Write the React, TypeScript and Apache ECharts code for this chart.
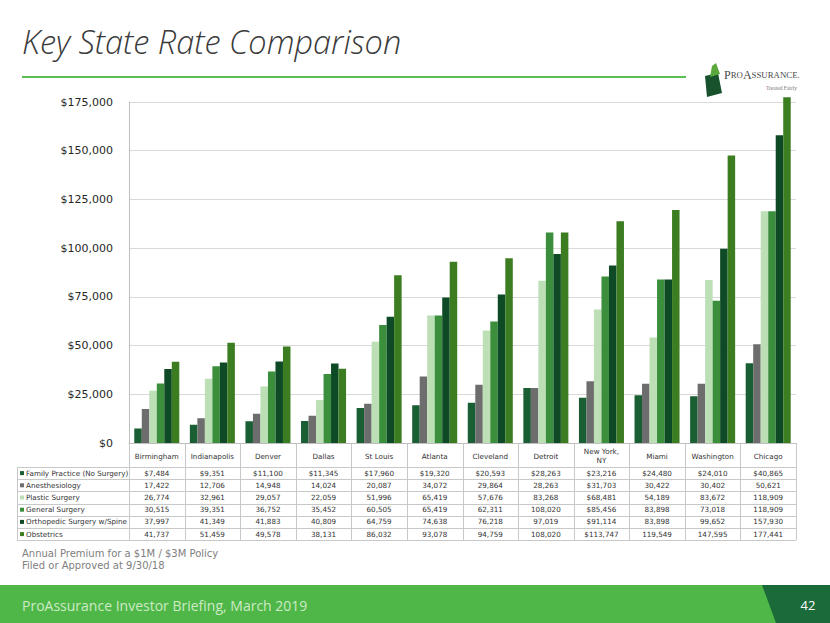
import React, { useEffect, useRef } from "react";
import * as echarts from "echarts";

const cities = ["Birmingham", "Indianapolis", "Denver", "Dallas", "St Louis", "Atlanta", "Cleveland", "Detroit", "New York,\nNY", "Miami", "Washington", "Chicago"];
const seriesNames = ["Family Practice (No Surgery)", "Anesthesiology", "Plastic Surgery", "General Surgery", "Orthopedic Surgery w/Spine", "Obstetrics"];
const familyPractice = [7484, 9351, 11100, 11345, 17960, 19320, 20593, 28263, 23216, 24480, 24010, 40865];
const anesthesiology = [17422, 12706, 14948, 14024, 20087, 34072, 29864, 28263, 31703, 30422, 30402, 50621];
const plasticSurgery = [26774, 32961, 29057, 22059, 51996, 65419, 57676, 83268, 68481, 54189, 83672, 118909];
const generalSurgery = [30515, 39351, 36752, 35452, 60505, 65419, 62311, 108020, 85456, 83898, 73018, 118909];
const orthoSpine = [37997, 41349, 41883, 40809, 64759, 74638, 76218, 97019, 91114, 83898, 99652, 157930];
const obstetrics = [41737, 51459, 49578, 38131, 86032, 93078, 94759, 108020, 113747, 119549, 147595, 177441];
const colors = ["#1a5e33", "#6d6d6d", "#bcdfb6", "#3b8f3c", "#0e4a25", "#3d7d22"];
const allValues = [familyPractice, anesthesiology, plasticSurgery, generalSurgery, orthoSpine, obstetrics];
const dollarColumn = 8;

const fmt = (v: number) => v.toLocaleString("en-US");

export default function App() {
  const ref = useRef<HTMLDivElement>(null);
  useEffect(() => {
    if (!ref.current) return;
    const chart = echarts.init(ref.current, null, { renderer: "svg" });
    const font = "DejaVu Sans";
    chart.setOption({
      animation: false,
      backgroundColor: "#ffffff",
      grid: { left: 129, right: 34, top: 102, bottom: 180 },
      xAxis: {
        type: "category",
        data: cities,
        axisLine: { lineStyle: { color: "#bfbfbf" } },
        axisTick: { show: false },
        axisLabel: { show: false },
      },
      yAxis: {
        type: "value",
        min: 0,
        max: 175000,
        interval: 25000,
        axisLine: { show: true, lineStyle: { color: "#bfbfbf" } },
        axisTick: { show: false },
        splitLine: { lineStyle: { color: "#d9d9d9" } },
        axisLabel: {
          margin: 16,
          fontFamily: font,
          fontSize: 11,
          color: "#262626",
          formatter: (v: number) => "$" + fmt(v),
        },
      },
      series: allValues.map((vals, i) => ({
        type: "bar",
        name: seriesNames[i],
        data: vals,
        barGap: "0%",
        barCategoryGap: "19%",
        clip: false,
        itemStyle: { color: colors[i] },
      })),
    });

    const x0 = chart.convertToPixel({ xAxisIndex: 0 }, 0) as number;
    const x1 = chart.convertToPixel({ xAxisIndex: 0 }, 1) as number;
    const band = x1 - x0;
    const left = x0 - band / 2;
    const right = left + band * cities.length;
    const axisY = chart.convertToPixel({ yAxisIndex: 0 }, 0) as number;
    const tableLeft = 17;
    const headerBottom = 467;
    const rowH = 12.2;
    const tableBottom = headerBottom + rowH * seriesNames.length;
    const lineColor = "#c8c8c8";
    const tf = `7.2px "${font}"`;
    const g: any[] = [];
    for (let c = 0; c <= cities.length; c++) {
      const x = Math.round(left + c * band) + 0.5;
      g.push({ type: "line", shape: { x1: x, y1: axisY, x2: x, y2: tableBottom }, style: { stroke: lineColor, lineWidth: 1 } });
    }
    g.push({ type: "line", shape: { x1: tableLeft + 0.5, y1: headerBottom, x2: tableLeft + 0.5, y2: tableBottom }, style: { stroke: lineColor, lineWidth: 1 } });
    for (let r = 0; r <= seriesNames.length; r++) {
      const y = Math.round(headerBottom + r * rowH) + 0.5;
      g.push({ type: "line", shape: { x1: tableLeft, y1: y, x2: right, y2: y }, style: { stroke: lineColor, lineWidth: 1 } });
    }
    cities.forEach((c, i) => {
      g.push({
        type: "text",
        x: left + band * (i + 0.5),
        y: (axisY + headerBottom) / 2 + 1,
        style: { text: c, fill: "#333333", font: tf, align: "center", verticalAlign: "middle", lineHeight: 9 },
      });
    });
    seriesNames.forEach((name, r) => {
      const yc = headerBottom + rowH * (r + 0.5);
      g.push({ type: "rect", shape: { x: 20, y: yc - 2, width: 4, height: 4 }, style: { fill: colors[r] } });
      g.push({ type: "text", x: 26, y: yc, style: { text: name, fill: "#333333", font: tf, align: "left", verticalAlign: "middle" } });
      allValues[r].forEach((v, i) => {
        const s = (r === 0 || i === dollarColumn ? "$" : "") + fmt(v);
        g.push({ type: "text", x: left + band * (i + 0.5), y: yc, style: { text: s, fill: "#333333", font: tf, align: "center", verticalAlign: "middle" } });
      });
    });
    g.push({ type: "text", x: 22, y: 25, style: { text: "Key State Rate Comparison", fill: "#3a3a3a", font: `italic 300 32.5px "Open Sans"`, verticalAlign: "top" } });
    g.push({ type: "line", shape: { x1: 22, y1: 77, x2: 686, y2: 77 }, style: { stroke: "#5cbd50", lineWidth: 2 } });
    g.push({ type: "polygon", shape: { points: [[705, 76], [718, 73], [722, 93], [707, 97]] }, style: { fill: "#17522c" } });
    g.push({ type: "polygon", shape: { points: [[710, 77], [712, 66], [716, 63], [720, 74]] }, style: { fill: "#5aa83c" } });
    g.push({
      type: "text", x: 724, y: 75,
      style: {
        text: "{b|P}{s|RO}{b|A}{s|SSURANCE.}",
        verticalAlign: "middle",
        rich: {
          b: { fontFamily: "Liberation Serif", fontSize: 12, fill: "#4a4a4a" },
          s: { fontFamily: "Liberation Serif", fontSize: 8.8, fill: "#4a4a4a" },
        },
      },
    });
    g.push({ type: "text", x: 797, y: 88, style: { text: "Treated Fairly", fill: "#777777", font: `5.5px "Liberation Serif"`, align: "right", verticalAlign: "middle" } });
    g.push({ type: "text", x: 22, y: 553, style: { text: "Annual Premium for a $1M / $3M Policy", fill: "#808080", font: `10px "${font}"`, verticalAlign: "middle" } });
    g.push({ type: "text", x: 22, y: 565, style: { text: "Filed or Approved at 9/30/18", fill: "#808080", font: `10px "${font}"`, verticalAlign: "middle" } });
    g.push({ type: "rect", shape: { x: 0, y: 585, width: 830, height: 38 }, style: { fill: "#4fb748" } });
    g.push({ type: "polygon", shape: { points: [[762, 585], [830, 585], [830, 623], [776, 623]] }, style: { fill: "#1b6a39" } });
    g.push({ type: "text", x: 22, y: 605, style: { text: "ProAssurance Investor Briefing, March 2019", fill: "#cdeac5", font: `14px "Open Sans"`, verticalAlign: "middle" } });
    g.push({ type: "text", x: 808, y: 605, style: { text: "42", fill: "#ffffff", font: `13px "Open Sans"`, align: "center", verticalAlign: "middle" } });

    chart.setOption({ graphic: g });
    return () => chart.dispose();
  }, []);
  return <div ref={ref} style={{ position: "fixed", left: 0, top: 0, width: 830, height: 623 }} />;
}
